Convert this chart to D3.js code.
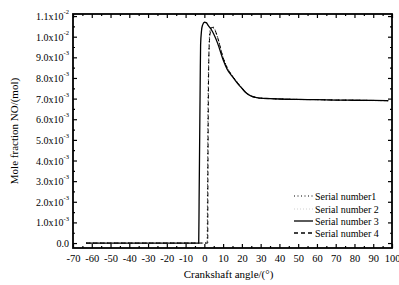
<!DOCTYPE html>
<html><head><meta charset="utf-8">
<script src="https://cdn.jsdelivr.net/npm/d3@7"></script>
<style>
html,body{margin:0;padding:0;background:#fff;}
text{font-family:"Liberation Serif","Times New Roman",serif;fill:#000;}
</style></head>
<body><svg id="c" width="399" height="285"></svg>
<script>
// ---- data (mole fraction in units of 1e-3 mol) ----
const angle3 = [-63,-3,-2.8,-2.5,-2.2,-2,-1.5,-1,0,1,2,4,7,10,12,15,18,20,22,25,28,30,35,40,50,60,70,80,90,98];
const serial3 = [0,0,2,5,8,9.6,10.3,10.55,10.7,10.68,10.55,10.3,9.7,8.88,8.45,8.06,7.7,7.5,7.3,7.12,7.05,7.02,7.0,6.98,6.96,6.95,6.93,6.92,6.91,6.9];
const angle1 = [-63,1.5,1.7,2,2.5,3,4,5,7,10,12,15,18,20,22,25,28,30,35,40,50,60,70,80,90,98];
const serial1 = [0,0,3,7,9.5,10.3,10.5,10.45,10.0,9.0,8.55,8.1,7.75,7.52,7.32,7.13,7.05,7.02,7.0,6.98,6.96,6.95,6.93,6.92,6.91,6.9];
const angle2 = [-63,1.6,1.8,2.1,2.6,3,4,5,7,10,12,15,18,20,22,25,28,30,35,40,50,60,70,80,90,98];
const serial2 = [0,0,3,7,9.4,10.2,10.45,10.4,9.95,8.95,8.5,8.08,7.72,7.5,7.3,7.12,7.04,7.01,6.99,6.97,6.95,6.94,6.92,6.91,6.9,6.89];
const angle4 = [-63,1.8,1.9,2.1,2.4,3,4,5,7,10,12,15,18,20,22,25,28,30,35,40,50,60,70,80,90,98];
const serial4 = [0,0,3,6.5,9.0,10.1,10.45,10.42,9.98,8.98,8.52,8.08,7.73,7.51,7.31,7.12,7.04,7.02,7.0,6.98,6.96,6.95,6.93,6.92,6.91,6.9];
const xTicks = [-70,-60,-50,-40,-30,-20,-10,0,10,20,30,40,50,60,70,80,90,100];
const yTicks = [0,1,2,3,4,5,6,7,8,9,10,11];
const legendNames = ["Serial number1","Serial number 2","Serial number 3","Serial number 4"];

const svg = d3.select("#c");
const L=73,R=392,T=14,B=248;
const x = d3.scaleLinear().domain([-70,100]).range([L,R]);
const y = d3.scaleLinear().domain([-0.24,11.1]).range([B,T]);

const fmtY = v => {
  if (v===0) return ["0.0",""];
  if (v>=10) return [(v/10).toFixed(1)+"x10","-2"];
  return [v.toFixed(1)+"x10","-3"];
};

// minor ticks
const xMinor = d3.range(-65,100,10);
const yMinor = d3.range(0.5,11,1);

function styleAxis(g){
  g.select(".domain").remove();
  g.selectAll("line").attr("stroke","#000").attr("stroke-width",1.2);
}
// bottom
svg.append("g").attr("transform",`translate(0,${B})`)
  .call(d3.axisBottom(x).tickValues(xTicks).tickSize(-4).tickPadding(7).tickFormat(d=>d))
  .call(styleAxis).call(g=>g.selectAll("text").attr("font-size",10.5).attr("font-family","Liberation Serif"));
svg.append("g").attr("transform",`translate(0,${B})`)
  .call(d3.axisBottom(x).tickValues(xMinor).tickSize(-2).tickFormat(""))
  .call(styleAxis);
// top
svg.append("g").attr("transform",`translate(0,${T})`)
  .call(d3.axisTop(x).tickValues(xTicks).tickSize(-4).tickFormat(""))
  .call(styleAxis);
svg.append("g").attr("transform",`translate(0,${T})`)
  .call(d3.axisTop(x).tickValues(xMinor).tickSize(-2).tickFormat(""))
  .call(styleAxis);
// left
const gl = svg.append("g").attr("transform",`translate(${L},0)`)
  .call(d3.axisLeft(y).tickValues(yTicks).tickSize(-4).tickPadding(3).tickFormat(""))
  .call(styleAxis);
gl.selectAll(".tick").append("text")
  .attr("x",-4).attr("dy","0.35em").attr("text-anchor","end").attr("font-size",10)
  .each(function(d){
    const [a,b]=fmtY(d);
    const t=d3.select(this);
    t.append("tspan").text(a);
    if(b) t.append("tspan").attr("font-size",6.5).attr("dy","-0.9em").text(b);
  });
svg.append("g").attr("transform",`translate(${L},0)`)
  .call(d3.axisLeft(y).tickValues(yMinor).tickSize(-2).tickFormat(""))
  .call(styleAxis);
// right
svg.append("g").attr("transform",`translate(${R},0)`)
  .call(d3.axisRight(y).tickValues(yTicks).tickSize(-4).tickFormat(""))
  .call(styleAxis);
svg.append("g").attr("transform",`translate(${R},0)`)
  .call(d3.axisRight(y).tickValues(yMinor).tickSize(-2).tickFormat(""))
  .call(styleAxis);

// frame
svg.append("rect").attr("x",L).attr("y",T).attr("width",R-L).attr("height",B-T)
  .attr("fill","none").attr("stroke","#000").attr("stroke-width",1.8);

// lines
const line = d3.line().x(d=>x(d[0])).y(d=>y(d[1])).curve(d3.curveMonotoneX);
const series = [
  {a:angle2,v:serial2,stroke:"#d0d0d0",dash:"1,2",w:1},
  {a:angle1,v:serial1,stroke:"#000",dash:"1,2.5",w:1},
  {a:angle4,v:serial4,stroke:"#000",dash:"4,3",w:1},
  {a:angle3,v:serial3,stroke:"#000",dash:null,w:1.3}
];
series.forEach(s=>{
  svg.append("path").datum(s.a.map((d,i)=>[d,s.v[i]]))
    .attr("d",line).attr("fill","none").attr("stroke",s.stroke)
    .attr("stroke-width",s.w).attr("stroke-dasharray",s.dash);
});

// legend
const legStyles = [
  {stroke:"#000",dash:"1,2.5",w:1},
  {stroke:"#d0d0d0",dash:"1,2",w:1},
  {stroke:"#000",dash:null,w:1.3},
  {stroke:"#000",dash:"4,3",w:1.3}
];
const legY = [196,209,221,233];
legendNames.forEach((n,i)=>{
  const s=legStyles[i];
  svg.append("line").attr("x1",294).attr("x2",313).attr("y1",legY[i]).attr("y2",legY[i])
    .attr("stroke",s.stroke).attr("stroke-width",s.w).attr("stroke-dasharray",s.dash);
  svg.append("text").attr("x",315).attr("y",legY[i]).attr("dy","0.35em")
    .attr("font-size",10).text(n);
});

// axis titles
svg.append("text").attr("x",(L+R)/2-4).attr("y",278).attr("text-anchor","middle")
  .attr("font-size",11).text("Crankshaft angle/(°)");
svg.append("text").attr("transform",`translate(18,${(T+B)/2}) rotate(-90)`)
  .attr("text-anchor","middle").attr("font-size",11).text("Mole fraction NO/(mol)");
</script></body></html>
